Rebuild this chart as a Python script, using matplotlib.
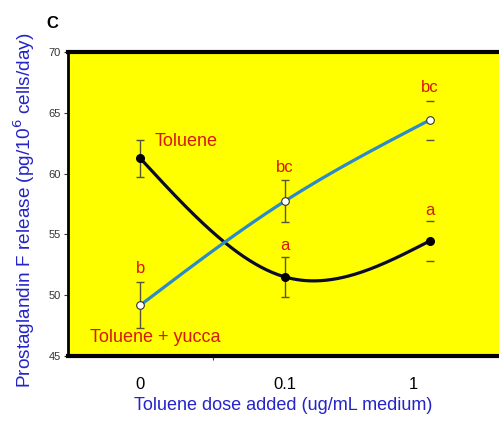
import numpy as np
import matplotlib.pyplot as plt

# -----------------------------
# Data
# -----------------------------
dose_labels = ["0", "0.1", "1"]
toluene = [61.25, 51.5, 54.45]
toluene_se = [1.55, 1.65, 1.63]
yucca = [49.18, 57.74, 64.4]
yucca_se = [1.9, 1.7, 1.6]
toluene_letters = ["", "a", "a"]
yucca_letters = ["b", "bc", "bc"]


def natural_spline(y, n=200):
    # natural cubic spline through equally spaced points (x = 0, 1, 2, ...)
    y = np.asarray(y, dtype=float)
    k = len(y)
    A = np.zeros((k, k))
    r = np.zeros(k)
    A[0, 0] = A[-1, -1] = 1
    for i in range(1, k - 1):
        A[i, i - 1:i + 2] = [1, 4, 1]
        r[i] = 6 * (y[i - 1] - 2 * y[i] + y[i + 1])
    M = np.linalg.solve(A, r)
    xs = np.linspace(0, k - 1, n)
    ys = np.empty_like(xs)
    for j, x in enumerate(xs):
        i = min(int(x), k - 2)
        a, b = i + 1 - x, x - i
        ys[j] = (M[i] * a**3 + M[i + 1] * b**3) / 6 \
            + (y[i] - M[i] / 6) * a + (y[i + 1] - M[i + 1] / 6) * b
    return xs, ys


plt.rcParams['font.family'] = ['Liberation Sans', 'DejaVu Sans']

fig = plt.figure(figsize=(4.99, 4.25), dpi=100)
ax = fig.add_axes([0.1363, 0.1624, 0.8637, 0.7153])
ax.set_facecolor("#ffff00")

x = np.arange(len(dose_labels))
red = "#d41a0a"
ebar = "#55553a"

# smooth lines
xs, ys = natural_spline(toluene)
ax.plot(xs, ys, color="#0b0b2e", lw=2.3, zorder=3)
xs, ys = natural_spline(yucca)
ax.plot(xs, ys, color="#2a8bc8", lw=2.3, zorder=3)

# error bars (last dose shows only the caps)
ax.errorbar(x[:2], toluene[:2], yerr=toluene_se[:2], fmt="none", ecolor=ebar,
            elinewidth=1, capsize=3, capthick=1, zorder=2)
ax.errorbar(x[:2], yucca[:2], yerr=yucca_se[:2], fmt="none", ecolor=ebar,
            elinewidth=1, capsize=3, capthick=1, zorder=2)
ax.errorbar(x[2:], toluene[2:], yerr=toluene_se[2:], fmt="none", ecolor=ebar,
            elinewidth=0, capsize=3, capthick=1, zorder=2)
ax.errorbar(x[2:], yucca[2:], yerr=yucca_se[2:], fmt="none", ecolor=ebar,
            elinewidth=0, capsize=3, capthick=1, zorder=2)

# markers
ax.plot(x, toluene, "o", color="black", ms=5.5, zorder=4)
ax.plot(x, yucca, "o", mfc="white", mec="#333333", mew=0.8, ms=5.5, zorder=4)

# significance letters
for xi, yi, se, t in zip(x, toluene, toluene_se, toluene_letters):
    if t:
        ax.text(xi, yi + se + 0.9, t, color=red, fontsize=12, ha="center", va="center")
for xi, yi, se, t in zip(x, yucca, yucca_se, yucca_letters):
    if t:
        ax.text(xi, yi + se + 1.1, t, color=red, fontsize=12, ha="center", va="center")

ax.text(0.1, 62.67, "Toluene", color=red, fontsize=13, ha="left", va="center")
ax.text(-0.345, 46.54, "Toluene + yucca", color=red, fontsize=13, ha="left", va="center")

# axes
ax.set_xlim(-0.5, 2.48)
ax.set_ylim(45, 70)
ax.set_yticks([45, 50, 55, 60, 65, 70])
ax.tick_params(axis="y", labelsize=8, length=3, width=0.8, colors="#333333", pad=2)

ax.set_xticks([0, 1, 1.89])
ax.set_xticklabels(dose_labels)
ax.set_xticks([0, 0.5, 1], minor=True)
ax.tick_params(axis="x", which="major", length=0, labelsize=12, pad=15)
ax.tick_params(axis="x", which="minor", length=3, width=0.8, color="#444444")

ax.spines["right"].set_visible(False)
ax.spines["top"].set_linewidth(3)
ax.spines["bottom"].set_linewidth(3)
ax.spines["left"].set_linewidth(2)

ax.set_ylabel("Prostaglandin F release (pg/10$^6$ cells/day)", color="#2424c8",
              fontsize=13.7)
ax.yaxis.set_label_coords(-31 / 431, 0.48)
ax.set_xlabel("Toluene dose added (ug/mL medium)", color="#2424c8",
              fontsize=13, labelpad=4)

fig.text(52 / 499, 1 - 23 / 425, "C", fontsize=12, fontweight="bold",
         ha="center", va="center")

fig.savefig("out.png", dpi=100)
